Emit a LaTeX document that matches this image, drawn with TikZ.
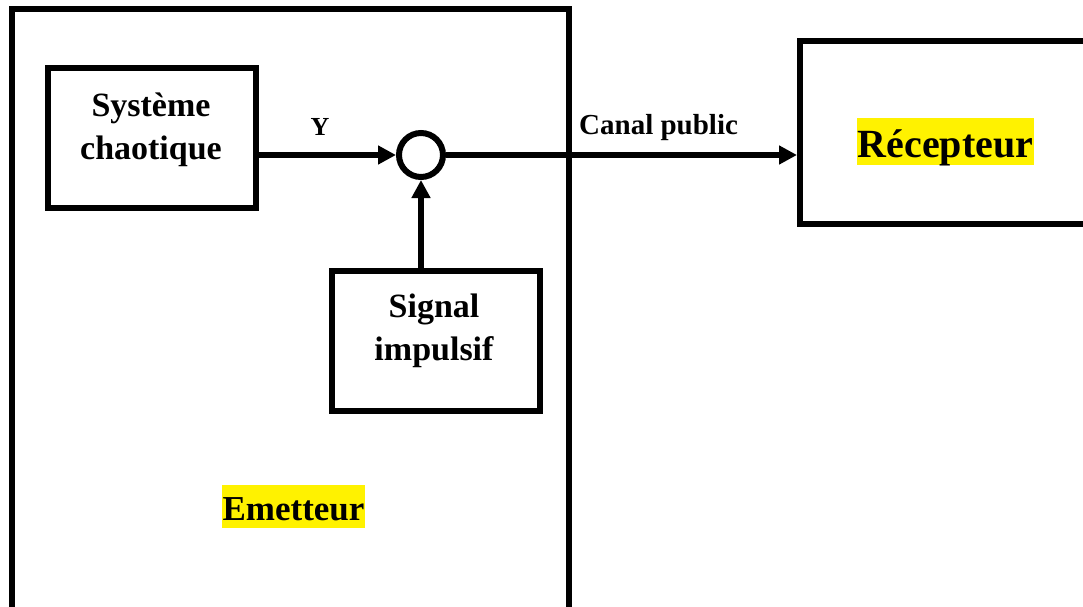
\documentclass[tikz,border=0pt]{standalone}
\usepackage{fontspec}
\setmainfont{Liberation Serif}
\usetikzlibrary{arrows.meta}
\begin{document}
\begin{tikzpicture}[x=1pt,y=-1pt,
  frame/.style={draw, line width=6pt, inner sep=0pt},
  blk/.style={frame, minimum width=208pt, minimum height=140pt},
  arr/.style={line width=5.5pt, -{Triangle[length=18pt,width=18pt]}},
  lbl/.style={font=\fontsize{34}{43}\selectfont\bfseries, align=center, inner sep=0pt},
  hl/.style={fill=yellow, inner ysep=0pt, inner xsep=1pt}]
\clip (0,0) rectangle (1083,607);
\fill[white] (0,0) rectangle (1083,607);
% Emetteur container
\node[frame, minimum width=557.5pt, minimum height=640pt] (em) at (290.25,329.5) {};
% Recepteur
\node[frame, minimum width=310pt, minimum height=183pt] (rec) at (955,132.5) {};
% blocks
\node[blk] (sys) at (151.5,138) {};
\node[lbl] (systxt) at (151,130) {Système\\chaotique};
\node[blk] (sig) at (435.5,340.5) {};
\node[lbl] (sigtxt) at (434,331) {Signal\\impulsif};
% summing circle
\node[draw, circle, line width=6pt, minimum size=44pt, inner sep=0pt] (sum) at (421,155) {};
% connectors
\draw[arr] (sys.east |- sum.center) -- (sum.west);
\draw[arr] (sum.east) -- (rec.west |- sum.center);
\draw[arr] (sum.center |- sig.north) -- (sum.south);
% labels
\node[font=\fontsize{26}{30}\selectfont\bfseries, inner sep=0pt] (ylbl) at (320,127) {Y};
\node[font=\fontsize{29}{34}\selectfont\bfseries, inner sep=0pt, anchor=base west] (canal) at (579,135) {Canal public};
\node[hl, font=\fontsize{40}{46}\selectfont\bfseries, text height=39pt, text depth=8pt, anchor=base] (rectxt) at (945.5,157) {Récepteur};
\node[hl, font=\fontsize{35}{40}\selectfont\bfseries, text height=35pt, text depth=8pt, anchor=base] (emtxt) at (293.5,520) {Emetteur};
\end{tikzpicture}
\end{document}
